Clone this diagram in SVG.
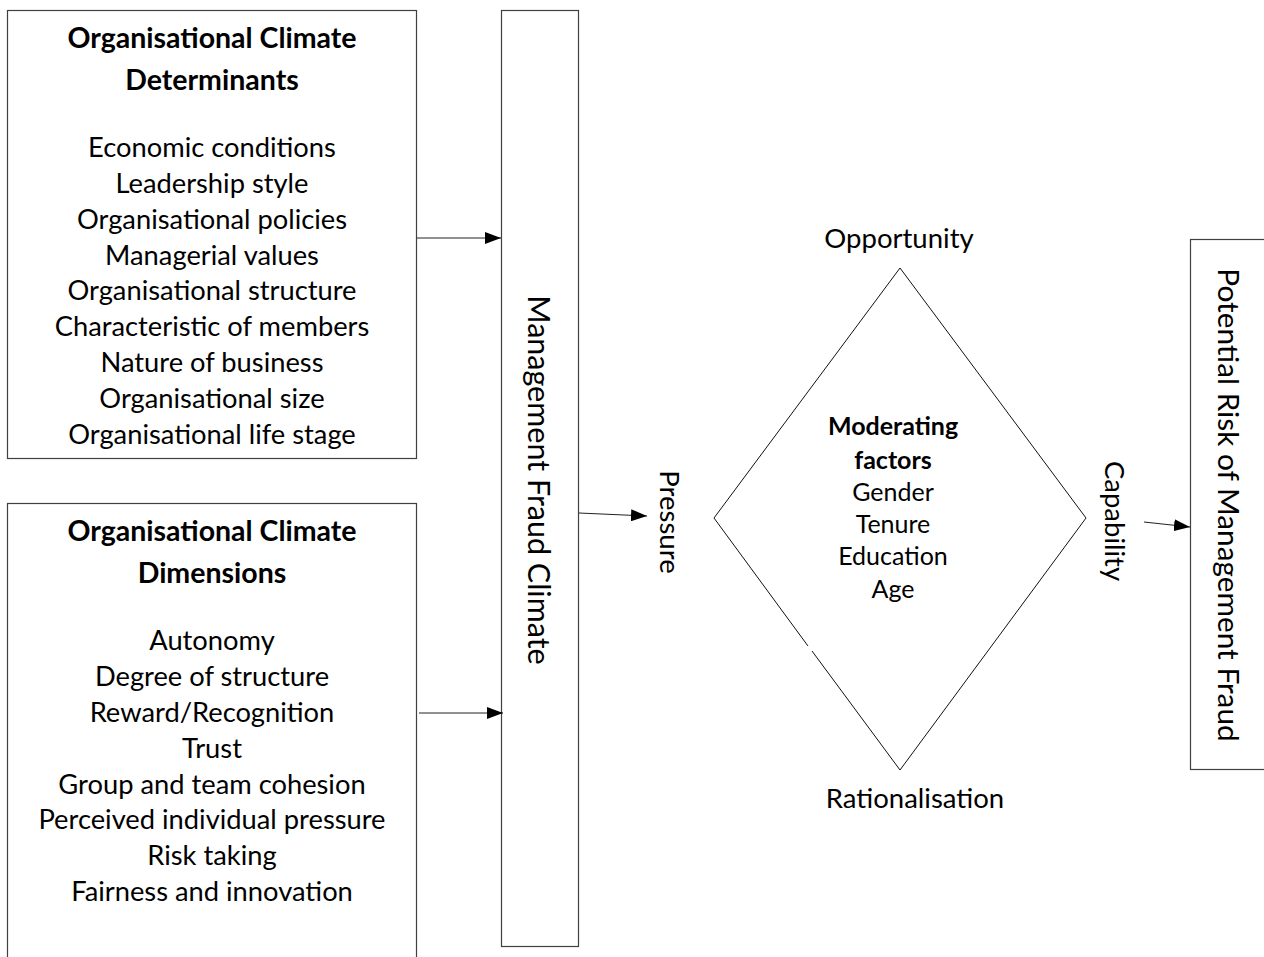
<svg xmlns="http://www.w3.org/2000/svg" width="1264" height="957" viewBox="0 0 1264 957">
<style>
.box{fill:#fff;stroke:#404040;stroke-width:1.2}
.t{font-family:Lato,"Liberation Sans",sans-serif;font-size:27.3px;fill:#000;text-anchor:middle}
.b{font-weight:bold;font-size:28.5px}
.m{font-size:25px}
.s{font-size:27.5px}
.r{font-size:30.5px}
.r2{font-size:29.8px}
.c{stroke:#222;stroke-width:1;fill:none}
</style>
<defs>
<marker id="ah" markerWidth="16" markerHeight="12" refX="16" refY="6" orient="auto" markerUnits="userSpaceOnUse">
<path d="M0,0 L16,6 L0,12 Z" fill="#000"/>
</marker>
</defs>
<rect width="1264" height="957" fill="#fff"/>
<g id="determinants">
<rect class="box" x="7.5" y="10.5" width="409" height="448"/>
<text class="t b" x="212" y="48">Organisational Climate</text>
<text class="t b" x="212" y="90">Determinants</text>
<text class="t" x="212" y="157">Economic conditions</text>
<text class="t" x="212" y="193">Leadership style</text>
<text class="t" x="212" y="229">Organisational policies</text>
<text class="t" x="212" y="265">Managerial values</text>
<text class="t" x="212" y="300">Organisational structure</text>
<text class="t" x="212" y="336">Characteristic of members</text>
<text class="t" x="212" y="372">Nature of business</text>
<text class="t" x="212" y="408">Organisational size</text>
<text class="t" x="212" y="444">Organisational life stage</text>
</g>
<g id="dimensions">
<rect class="box" x="7.5" y="503.5" width="409" height="470"/>
<text class="t b" x="212" y="541">Organisational Climate</text>
<text class="t b" x="212" y="583">Dimensions</text>
<text class="t" x="212" y="650">Autonomy</text>
<text class="t" x="212" y="686">Degree of structure</text>
<text class="t" x="212" y="722">Reward/Recognition</text>
<text class="t" x="212" y="758">Trust</text>
<text class="t" x="212" y="794">Group and team cohesion</text>
<text class="t" x="212" y="829">Perceived individual pressure</text>
<text class="t" x="212" y="865">Risk taking</text>
<text class="t" x="212" y="901">Fairness and innovation</text>
</g>
<g id="climate">
<rect class="box" x="501.5" y="10.5" width="77" height="936"/>
<text class="t r" transform="translate(539,480) rotate(90)" y="11">Management Fraud Climate</text>
</g>
<g id="triangle">
<path d="M900,268 L1086,518 L900,770 L812,651 M808,646 L714,518 L900,268" fill="none" stroke="#111" stroke-width="1"/>
<text class="t s" x="899" y="248">Opportunity</text>
<text class="t s" x="915" y="808">Rationalisation</text>
<text class="t m b" x="893" y="435">Moderating</text>
<text class="t m b" x="893" y="469">factors</text>
<text class="t m" x="893" y="501">Gender</text>
<text class="t m" x="893" y="533">Tenure</text>
<text class="t m" x="893" y="565">Education</text>
<text class="t m" x="893" y="598">Age</text>
<text class="t s" transform="translate(670,522) rotate(90)" y="10">Pressure</text>
<text class="t s" transform="translate(1115,521) rotate(90)" y="10">Capability</text>
</g>
<g id="risk">
<rect class="box" x="1190.5" y="239.5" width="80" height="530"/>
<text class="t r2" transform="translate(1229,505) rotate(90)" y="11">Potential Risk of Management Fraud</text>
</g>
<g id="connectors">
<line class="c" x1="417" y1="238" x2="501" y2="238" marker-end="url(#ah)"/>
<line class="c" x1="419" y1="713" x2="503" y2="713" marker-end="url(#ah)"/>
<line class="c" x1="579" y1="513" x2="647" y2="516" marker-end="url(#ah)"/>
<line class="c" x1="1144" y1="522" x2="1190" y2="527" marker-end="url(#ah)"/>
</g>
</svg>
